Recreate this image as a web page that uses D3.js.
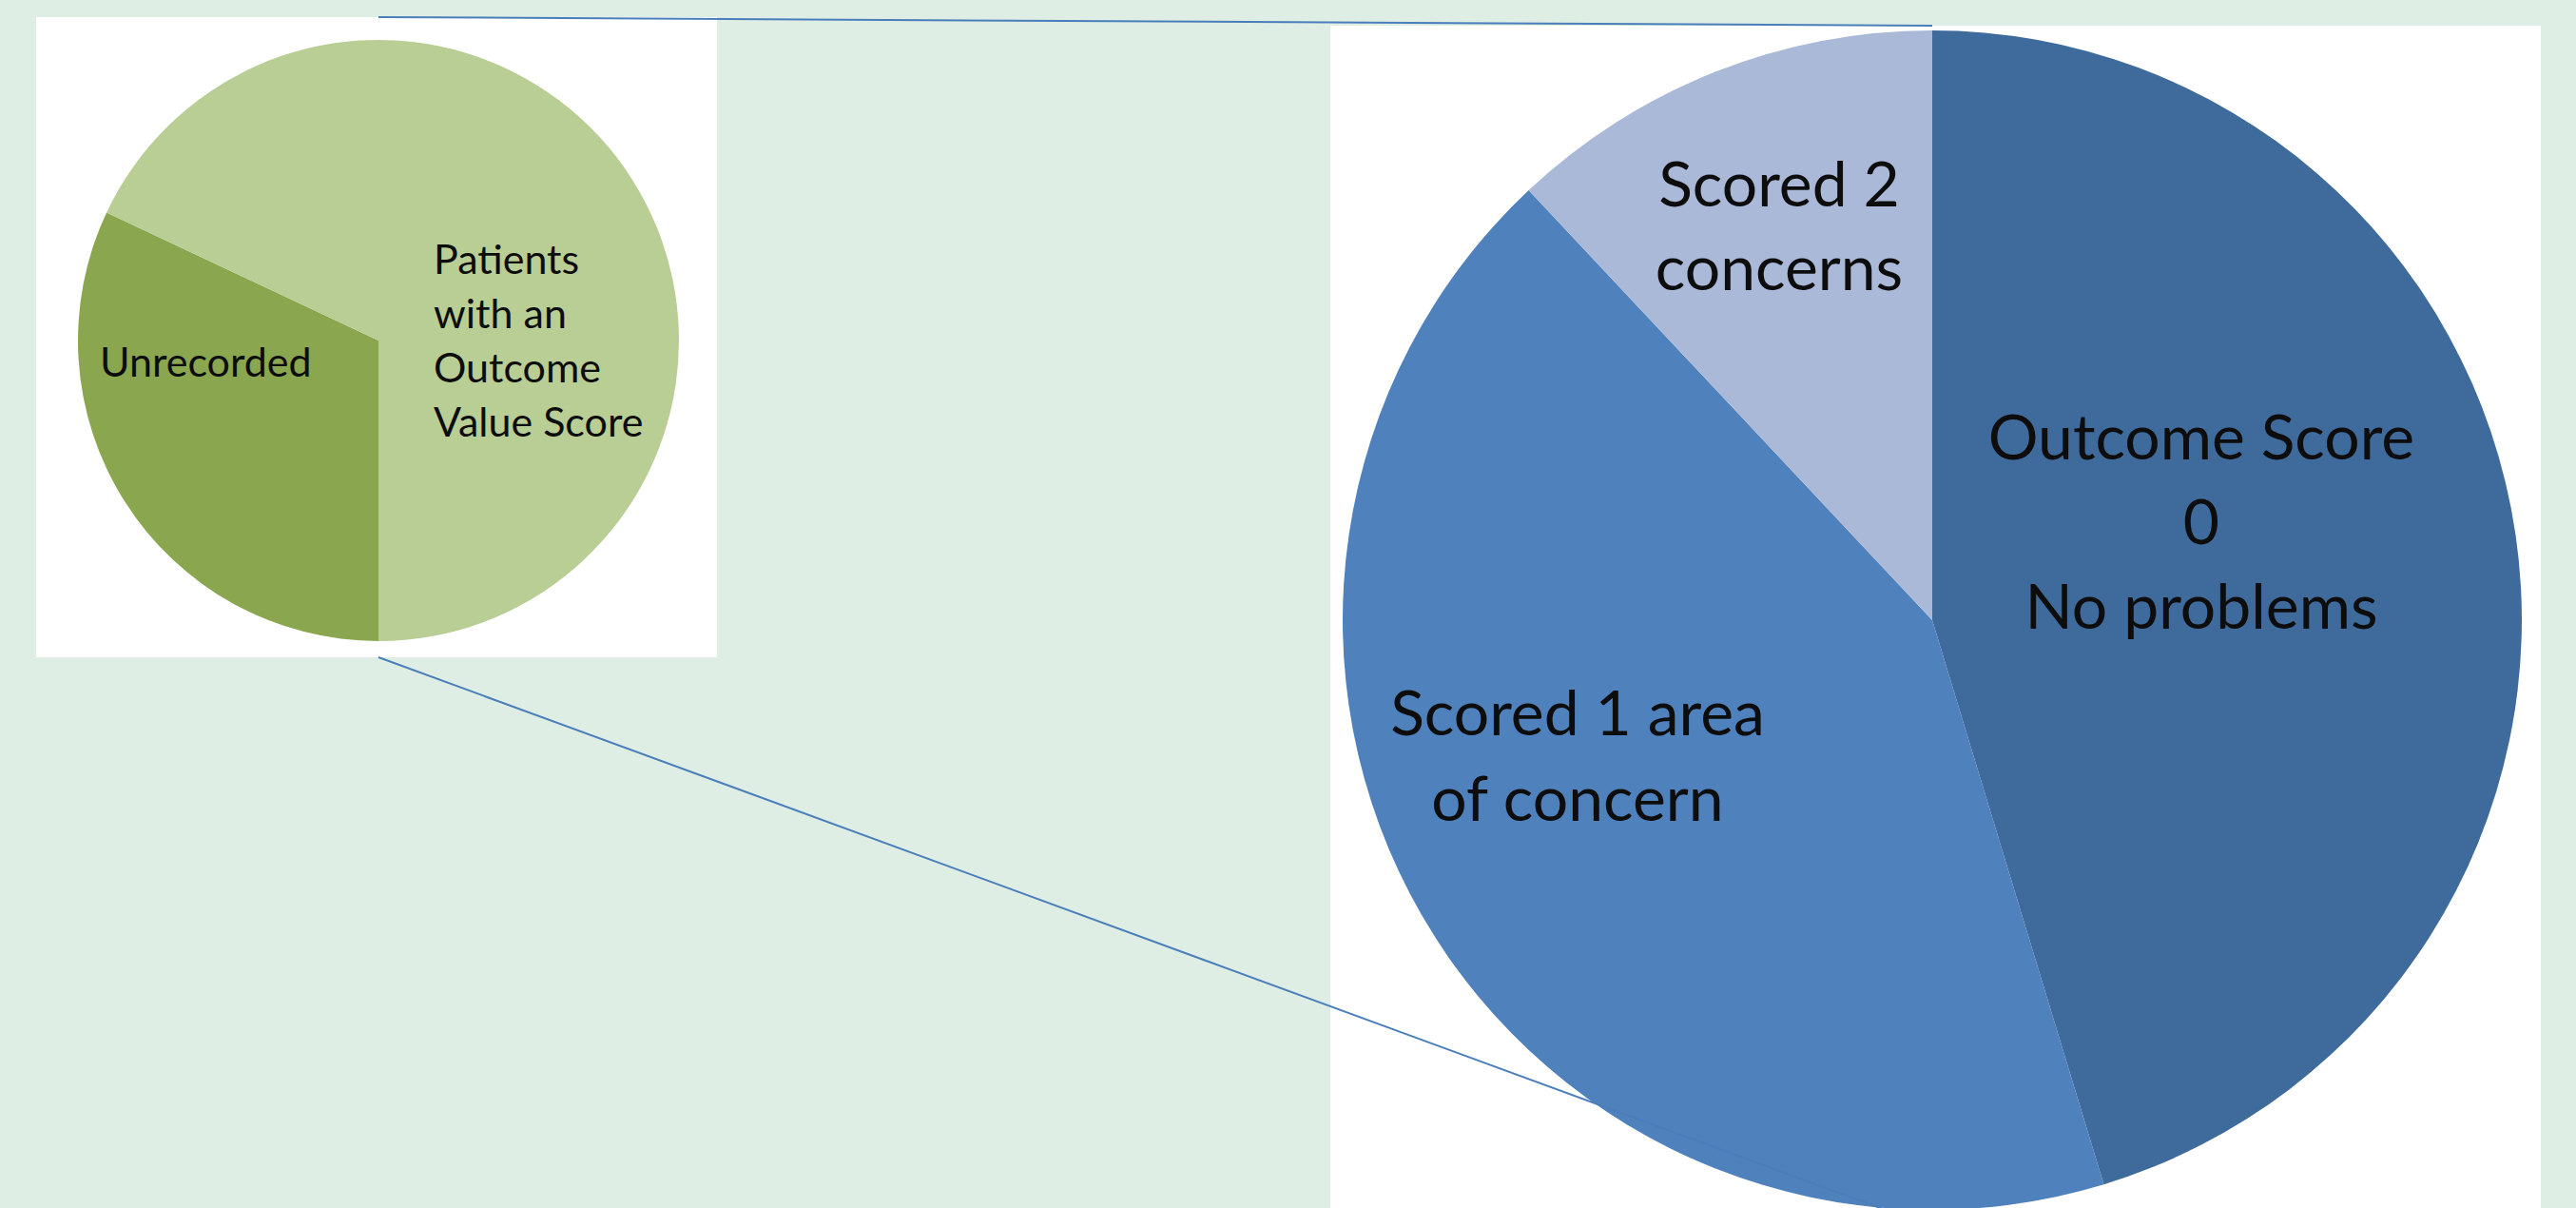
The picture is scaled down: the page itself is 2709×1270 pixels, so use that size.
<!DOCTYPE html>
<html>
<head>
<meta charset="utf-8">
<script src="https://cdn.jsdelivr.net/npm/d3@7"></script>
<style>
  html, body { margin: 0; padding: 0; background: #dfeee4; }
  svg { display: block; }
  text { font-family: Lato, "Open Sans", sans-serif; fill: #0d0d0d; }
</style>
</head>
<body>
<div id="chart"></div>
<script>
// Overview pie (left)
const mainCategories = ["Unrecorded", "Patients with an Outcome Value Score"];
const mainValues = [32, 68];
const mainLabels = [["Unrecorded"], ["Patients", "with an", "Outcome", "Value Score"]];

// Breakdown pie (right)
const detailCategories = ["Outcome Score 0 No problems", "Scored 1 area of concern", "Scored 2 concerns"];
const detailValues = [45.3, 42.7, 12.0];
const detailLabels = [["Outcome Score", "0", "No problems"], ["Scored 1 area", "of concern"], ["Scored 2", "concerns"]];

const W = 2709, H = 1270;

const svg = d3.select("#chart").append("svg")
    .attr("width", W)
    .attr("height", H);

svg.append("rect")
    .attr("width", W)
    .attr("height", H)
    .attr("fill", "#dfeee4");

// layout
const left = { box: [38, 18, 716, 673], cx: 398, cy: 358, r: 316 };
const right = { box: [1399, 27, 1273, 1250], cx: 2032, cy: 652, r: 620 };

// label placement relative to pie centre (dx, dy of first baseline, line step, anchor)
const mainLabelPos = [
    { dx: -293, dy: 38, step: 57, anchor: "start" },
    { dx: 58, dy: -70, step: 57, anchor: "start" }
];
const detailLabelPos = [
    { dx: 283, dy: -169, step: 89, anchor: "middle" },
    { dx: -373, dy: 121, step: 90, anchor: "middle" },
    { dx: -161, dy: -435, step: 88, anchor: "middle" }
];

function drawBox(b) {
    svg.append("rect")
        .attr("x", b[0]).attr("y", b[1])
        .attr("width", b[2]).attr("height", b[3])
        .attr("fill", "#ffffff");
}

function drawPie(cfg, values, colors, startAngle) {
    const pie = d3.pie().sort(null).startAngle(startAngle).endAngle(startAngle + 2 * Math.PI);
    const arc = d3.arc().innerRadius(0).outerRadius(cfg.r);
    const g = svg.append("g").attr("transform", `translate(${cfg.cx},${cfg.cy})`);
    g.selectAll("path")
        .data(pie(values))
        .join("path")
        .attr("d", arc)
        .attr("fill", (d, i) => colors[i]);
    return g;
}

function drawLabels(g, labels, pos, size) {
    labels.forEach((lines, i) => {
        const p = pos[i];
        const t = g.append("text")
            .attr("text-anchor", p.anchor)
            .attr("font-size", size);
        lines.forEach((line, j) => {
            t.append("tspan")
                .attr("x", p.dx)
                .attr("y", p.dy + j * p.step)
                .text(line);
        });
    });
}

// left pie
drawBox(left.box);
const gLeft = drawPie(left, mainValues, ["#8aa64e", "#b9ce95"], Math.PI);
drawLabels(gLeft, mainLabels, mainLabelPos, 43);

// right pie
drawBox(right.box);
const gRight = drawPie(right, detailValues, ["#3f6a9c", "#4f81bd", "#aab9d7"], 0);
drawLabels(gRight, detailLabels, detailLabelPos, 66);

// connector lines between the two pies
const connectors = [
    [[left.cx, left.box[1]], [right.cx, right.box[1]]],
    [[left.cx, left.box[1] + left.box[3]], [right.cx, right.cy + right.r + 18]]
];
svg.selectAll("line.connector")
    .data(connectors)
    .join("line")
    .attr("class", "connector")
    .attr("x1", d => d[0][0]).attr("y1", d => d[0][1])
    .attr("x2", d => d[1][0]).attr("y2", d => d[1][1])
    .attr("stroke", "#4a7ebb")
    .attr("stroke-width", 2);
</script>
</body>
</html>
